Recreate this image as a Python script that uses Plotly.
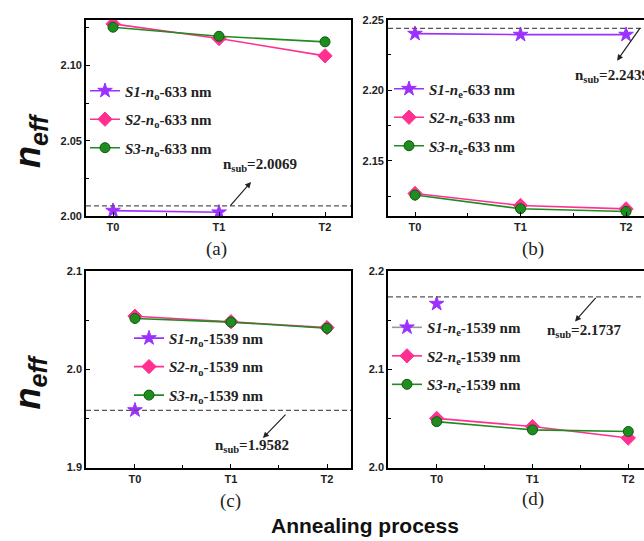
import plotly.graph_objects as go

W, H = 644, 541

periods = ["T0", "T1", "T2"]

# (a) n_o at 633 nm
a_s1 = [2.0037, 2.0026, None]
a_s2 = [2.1277, 2.1180, 2.1065]
a_s3 = [2.1255, 2.1195, 2.1158]
# (b) n_e at 633 nm
b_s1 = [2.2401, 2.2394, 2.2394]
b_s2 = [2.1269, 2.1184, 2.1160]
b_s3 = [2.1258, 2.1161, 2.1142]
# (c) n_o at 1539 nm
c_s1 = [1.9584, None, None]
c_s2 = [2.0540, 2.0484, 2.0424]
c_s3 = [2.0517, 2.0480, 2.0417]
# (d) n_e at 1539 nm
d_s1 = [2.1667, None, None]
d_s2 = [2.0500, 2.0417, 2.0300]
d_s3 = [2.0467, 2.0383, 2.0367]

nsub = [2.0069, 2.2439, 1.9582, 2.1737]
nsub_labels = ["2.0069", "2.2439", "1.9582", "2.1737"]
panel_names = ["(a)", "(b)", "(c)", "(d)"]

legend_names = [
    ["<i>S1</i>-<i>n</i><sub>o</sub>-633 nm", "<i>S2</i>-<i>n</i><sub>o</sub>-633 nm", "<i>S3</i>-<i>n</i><sub>o</sub>-633 nm"],
    ["<i>S1</i>-<i>n</i><sub>e</sub>-633 nm", "<i>S2</i>-<i>n</i><sub>e</sub>-633 nm", "<i>S3</i>-<i>n</i><sub>e</sub>-633 nm"],
    ["<i>S1</i>-<i>n</i><sub>o</sub>-1539 nm", "<i>S2</i>-<i>n</i><sub>o</sub>-1539 nm", "<i>S3</i>-<i>n</i><sub>o</sub>-1539 nm"],
    ["<i>S1</i>-<i>n</i><sub>e</sub>-1539 nm", "<i>S2</i>-<i>n</i><sub>e</sub>-1539 nm", "<i>S3</i>-<i>n</i><sub>e</sub>-1539 nm"],
]

series = [[a_s1, a_s2, a_s3], [b_s1, b_s2, b_s3], [c_s1, c_s2, c_s3], [d_s1, d_s2, d_s3]]

PURPLE = "#9B30FF"
PINK = "#FF3090"
GREEN = "#1F8C1F"

def px_x(p):
    return p / W

def px_y(p):
    return 1 - p / H

# panel pixel boxes: left, right, top, bottom
boxes = [(86, 351, 14, 215), (388, 644, 14, 215), (86, 351, 271, 472), (388, 644, 271, 472)]
xranges = [[-0.255, 2.245], [-0.256, 2.17], [-0.51, 2.25], [-0.508, 2.164]]
yranges = [[2.0, 2.1305], [2.1108, 2.25], [1.9, 2.1], [2.0, 2.2]]
ytickvals = [[2.00, 2.05, 2.10], [2.15, 2.20, 2.25], [1.9, 2.0, 2.1], [2.0, 2.1, 2.2]]
yfmt = [".2f", ".2f", ".1f", ".1f"]
yminor = [0.025, 0.025, 0.05, 0.05]
# legend left edge / top edge in pixels
legend_pos = [(85, 70), (389, 68), (129, 323), (387, 312)]

x_idx = list(range(len(periods)))

fig = go.Figure()
legend_keys = ["legend", "legend2", "legend3", "legend4"]

for i in range(4):
    xa = "x" if i == 0 else f"x{i+1}"
    ya = "y" if i == 0 else f"y{i+1}"
    s1, s2, s3 = series[i]
    s1_line = "#999999" if i == 3 else PURPLE
    styles = [
        (s1, s1_line, PURPLE, "star", 11),
        (s2, PINK, PINK, "diamond", 11),
        (s3, GREEN, GREEN, "circle", 10),
    ]
    for k, (vals, lc, mc, sym, ms) in enumerate(styles):
        fig.add_trace(go.Scatter(
            x=x_idx, y=vals, mode="lines+markers", name=legend_names[i][k],
            line=dict(color=lc, width=1.6),
            marker=dict(symbol=sym, size=ms, color=mc,
                        line=dict(color="#0b5e0b" if sym == "circle" else mc, width=1)),
            xaxis=xa, yaxis=ya, legend=legend_keys[i], legendgroup=f"g{i}{k}",
        ))
    # substrate index line
    fig.add_shape(type="line", xref=f"{xa} domain", yref=ya, x0=0, x1=1,
                  y0=nsub[i], y1=nsub[i], line=dict(color="#555555", width=1.2, dash="5px,3px"))

    l, r, t, b = boxes[i]
    axis_common = dict(showgrid=False, zeroline=False, showline=True, linecolor="black",
                       linewidth=1.6, ticks="inside", ticklen=4, tickwidth=1.2, tickcolor="black",
                       tickfont=dict(family="Liberation Sans", size=11, color="#222", weight="bold"))
    fig.update_layout(**{
        ("xaxis" if i == 0 else f"xaxis{i+1}"): dict(
            domain=[px_x(l), px_x(r)], anchor=ya, range=xranges[i],
            tickvals=x_idx, ticktext=periods, mirror=True,
            minor=dict(dtick=0.5, tick0=0, ticks="inside", ticklen=3, tickcolor="black"),
            **axis_common),
        ("yaxis" if i == 0 else f"yaxis{i+1}"): dict(
            domain=[px_y(b), px_y(t)], anchor=xa, range=yranges[i],
            tickvals=ytickvals[i], tickformat=yfmt[i], mirror=(i in (0, 2)),
            minor=dict(dtick=yminor[i], tick0=ytickvals[i][0], ticks="inside", ticklen=3, tickcolor="black"),
            **axis_common),
    })
    lx, ly = legend_pos[i]
    fig.update_layout(**{legend_keys[i]: dict(
        x=px_x(lx), y=px_y(ly), xanchor="left", yanchor="top",
        bgcolor="rgba(0,0,0,0)", borderwidth=0, traceorder="grouped", tracegroupgap=6,
        font=dict(family="Liberation Serif", size=15, color="#222", weight="bold"),
        itemwidth=30,
    )})

# n_sub annotations: arrow (head, tail offset) and text
arrows = [
    dict(x=1.302, y=2.0227, ax=-22, ay=25, tx=1.387, ty=2.0338, anchor="center"),
    dict(x=1.915, y=2.221, ax=24, ay=-34, tx=1.498, ty=2.2099, anchor="left"),
    dict(x=1.333, y=1.930, ax=24, ay=-25, tx=1.219, ty=1.9217, anchor="center"),
    dict(x=1.444, y=2.1487, ax=22, ay=-25, tx=1.538, ty=2.1387, anchor="center"),
]
for i, a in enumerate(arrows):
    xa = "x" if i == 0 else f"x{i+1}"
    ya = "y" if i == 0 else f"y{i+1}"
    fig.add_annotation(x=a["x"], y=a["y"], xref=xa, yref=ya, ax=a["ax"], ay=a["ay"],
                       text="", showarrow=True, arrowhead=2, arrowsize=1, arrowwidth=1.2,
                       arrowcolor="#222")
    fig.add_annotation(x=a["tx"], y=a["ty"], xref=xa, yref=ya, showarrow=False,
                       xanchor=a["anchor"], yanchor="middle",
                       text=f"n<sub>sub</sub>={nsub_labels[i]}",
                       font=dict(family="Liberation Serif", size=15, color="#222", weight="bold"))

# panel labels
label_pos = [(216, 249), (533, 249), (230, 506), (533, 504)]
for (px_, py_), name in zip(label_pos, panel_names):
    fig.add_annotation(x=px_x(px_), y=px_y(py_), xref="paper", yref="paper", showarrow=False,
                       xanchor="center", yanchor="middle",
                       text=name, font=dict(family="Liberation Serif", size=19, color="#222"))

# y titles
for cy in (138, 385):
    fig.add_annotation(x=px_x(30), y=px_y(cy), xref="paper", yref="paper", showarrow=False,
                       xanchor="center", yanchor="middle",
                       textangle=-90, text="<b><i>n</i></b><sub><b><i>eff</i></b></sub>",
                       font=dict(family="Liberation Sans", size=36, color="#111"))

# x title
fig.add_annotation(x=px_x(365), y=px_y(531), xref="paper", yref="paper", showarrow=False,
                   xanchor="center", yanchor="middle",
                   text="<b>Annealing process</b>",
                   font=dict(family="Liberation Sans", size=21, color="#111"))

fig.update_layout(width=W, height=H, margin=dict(l=0, r=0, t=0, b=0),
                  plot_bgcolor="white", paper_bgcolor="white", showlegend=True)

fig.write_html("out.html", config={"displayModeBar": False},
               post_script="document.body.style.margin='0';")
